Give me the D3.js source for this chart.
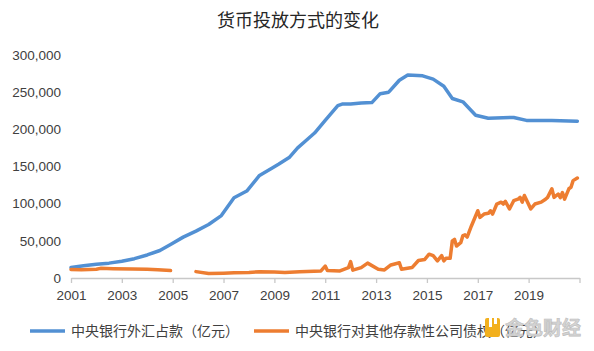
<!DOCTYPE html>
<html>
<head>
<meta charset="utf-8">
<script src="https://cdn.jsdelivr.net/npm/d3@7"></script>
<style>
  body { margin: 0; background: #fff; }
  text { font-family: "Liberation Sans", Arial, "Noto Sans CJK SC", sans-serif; }
  .cjk { font-family: "Noto Sans CJK SC", sans-serif; }
</style>
</head>
<body>
<div id="chart"></div>
<script>
// data (亿元)
var title = "货币投放方式的变化";
var seriesNames = ["中央银行外汇占款（亿元）", "中央银行对其他存款性公司债权（亿元）"];
var yTicks = [0, 50000, 100000, 150000, 200000, 250000, 300000];
var xTickYears = [2001, 2003, 2005, 2007, 2009, 2011, 2013, 2015, 2017, 2019, 2021];

var fxMonths = ["2001-01","2001-07","2002-01","2002-07","2003-01","2003-07","2004-01","2004-07","2004-12",
  "2005-06","2005-12","2006-06","2006-12","2007-06","2007-12","2008-06","2008-12","2009-03","2009-08",
  "2009-12","2010-04","2010-08","2011-01","2011-07","2011-09","2012-01","2012-06","2012-11","2013-03",
  "2013-07","2013-12","2014-04","2014-11","2015-04","2015-09","2016-01","2016-06","2016-12","2017-06",
  "2018-06","2018-12","2019-12","2020-12"];
var fxValues = [14000,16500,18500,20000,22500,26000,31000,37000,45000,
  55000,63000,72000,84000,108000,117000,138000,148000,153000,162000,
  175000,185000,195000,212000,232000,234000,234000,235500,236000,248000,
  250000,266000,273000,272000,267500,258000,241500,237000,219000,215000,
  216000,212000,212000,211000];

var claimMonths = ["2001-01","2001-06","2002-01","2002-03","2002-09","2003-06","2004-01","2004-06","2004-12",
  "2005-06","2005-12","2006-06","2007-01","2007-06","2008-01","2008-06","2009-01","2009-06","2010-01",
  "2010-11","2011-01","2011-02","2011-08","2011-12","2012-01","2012-02","2012-06","2012-09","2013-02",
  "2013-05","2013-08","2013-12","2014-01","2014-06","2014-09","2014-12","2015-02","2015-04","2015-06",
  "2015-08","2015-09","2015-10","2015-12","2016-01","2016-02","2016-03","2016-05","2016-06","2016-07",
  "2016-08","2016-10","2017-01","2017-02","2017-04","2017-06","2017-07","2017-08","2017-10","2017-12",
  "2018-01","2018-02","2018-04","2018-06","2018-08","2018-09","2018-10","2018-11","2019-02","2019-04",
  "2019-07","2019-09","2019-10","2019-12","2020-01","2020-03","2020-04","2020-05","2020-06","2020-08",
  "2020-09","2020-10","2020-12"];
var claimValues = [11500,11000,11700,13000,12500,12000,11700,11000,10000,
  null,8600,6000,6500,7000,7500,8500,8000,7500,8500,
  9500,16000,10000,9500,14000,22000,10500,14000,20000,11700,
  10800,17500,20500,11700,14000,23500,25000,32000,30000,23000,
  30000,23000,26500,26500,50000,52000,43000,47500,57000,58000,
  55000,70000,90500,81500,86000,87000,90500,86000,99500,102000,
  99500,103000,93000,104000,106000,108500,102000,111000,93000,99500,
  102000,106000,108500,120000,108500,113000,108000,115000,106000,120000,
  122000,131000,134500];

var colors = ["#5290d3", "#ed7d31"];

var width = 594, height = 351;
var margin = {top: 55, right: 14, bottom: 74, left: 71};
var innerW = width - margin.left - margin.right,
    innerH = height - margin.top - margin.bottom;

var parse = d3.timeParse("%Y-%m");

var svg = d3.select("#chart")
  .append("svg")
    .attr("width", width)
    .attr("height", height);

svg.append("text")
  .attr("class", "cjk")
  .attr("x", 298)
  .attr("y", 27)
  .attr("text-anchor", "middle")
  .attr("font-size", 18)
  .attr("fill", "#262626")
  .text(title);

var g = svg.append("g")
  .attr("transform", "translate(" + margin.left + "," + margin.top + ")");

var x = d3.scaleTime()
  .domain([new Date(2001, 0, 1), new Date(2021, 0, 1)])
  .range([0, innerW - 0.5]);

var y = d3.scaleLinear()
  .domain([0, 300000])
  .range([innerH + 1, 0]);

// x axis
var xAxis = g.append("g")
  .attr("transform", "translate(0," + (innerH + 1) + ")")
  .call(d3.axisBottom(x)
    .tickValues(xTickYears.map(function(yr) { return new Date(yr, 0, 1); }))
    .tickSize(5)
    .tickSizeOuter(0)
    .tickFormat(function(d) { return d.getFullYear() < 2021 ? d.getFullYear() : ""; }));
xAxis.select(".domain").attr("stroke", "#c8c8c8").attr("stroke-width", 1.3);
xAxis.selectAll(".tick line").attr("stroke", "#c8c8c8").attr("stroke-width", 1.3);
xAxis.selectAll(".tick text")
  .attr("dy", "1.05em")
  .attr("font-size", 13.5)
  .attr("fill", "#404040")
  .attr("font-family", "Liberation Sans, Arial, sans-serif");

// y axis (labels only)
var yAxis = g.append("g")
  .call(d3.axisLeft(y)
    .tickValues(yTicks)
    .tickSize(0)
    .tickPadding(10)
    .tickFormat(d3.format(",")));
yAxis.select(".domain").remove();
yAxis.selectAll(".tick text")
  .attr("font-size", 13.5)
  .attr("fill", "#404040")
  .attr("font-family", "Liberation Sans, Arial, sans-serif");

var line = d3.line()
  .defined(function(d) { return d.v !== null; })
  .x(function(d) { return x(d.t); })
  .y(function(d) { return y(d.v); });

var fxData = fxMonths.map(function(m, i) { return {t: parse(m), v: fxValues[i]}; });
var claimData = claimMonths.map(function(m, i) { return {t: parse(m), v: claimValues[i]}; });

[fxData, claimData].forEach(function(data, i) {
  g.append("path")
    .datum(data)
    .attr("fill", "none")
    .attr("stroke", colors[i])
    .attr("stroke-width", 3.5)
    .attr("stroke-linejoin", "round")
    .attr("stroke-linecap", "round")
    .attr("d", line);
});

// legend
var legendItems = [{x: 30, w: 35}, {x: 254, w: 35}];
legendItems.forEach(function(item, i) {
  svg.append("line")
    .attr("x1", item.x).attr("x2", item.x + item.w)
    .attr("y1", 331).attr("y2", 331)
    .attr("stroke", colors[i])
    .attr("stroke-width", 3.5);
  svg.append("text")
    .attr("class", "cjk")
    .attr("x", item.x + item.w + 6)
    .attr("y", 336)
    .attr("font-size", 14)
    .attr("fill", "#404040")
    .text(seriesNames[i]);
});

// watermark
var wm = svg.append("g").attr("transform", "translate(485,318)");
wm.append("rect").attr("width", 15).attr("height", 19).attr("rx", 2).attr("fill", "#f2b01e");
wm.append("rect").attr("x", 4).attr("y", 0).attr("width", 3).attr("height", 9).attr("fill", "#fff");
wm.append("rect").attr("x", 9).attr("y", 0).attr("width", 3).attr("height", 6).attr("fill", "#fff");
wm.append("text")
  .attr("class", "cjk")
  .attr("x", 20).attr("y", 17)
  .attr("font-size", 19)
  .attr("font-weight", "bold")
  .attr("fill", "#d4d4d4")
  .attr("stroke", "#bdbdbd")
  .attr("stroke-width", 0.6)
  .text("金色财经");
</script>
</body>
</html>
